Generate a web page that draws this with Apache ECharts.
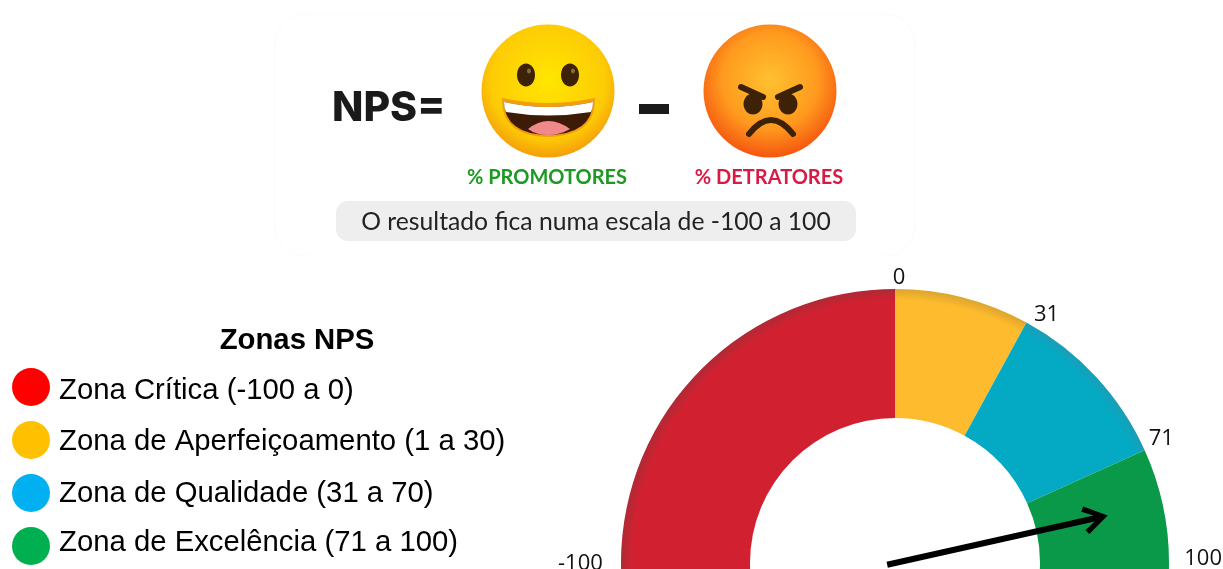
<!DOCTYPE html>
<html>
<head>
<meta charset="utf-8">
<title>Zonas NPS</title>
<script src="https://cdn.jsdelivr.net/npm/echarts@6/dist/echarts.min.js"></script>
<style>
html, body { margin: 0; padding: 0; background: #fff; }
#chart { width: 1223px; height: 569px; }
</style>
</head>
<body>
<div id="chart"></div>
<script>
var zoneNames = ['Zona Crítica (-100 a 0)', 'Zona de Aperfeiçoamento (1 a 30)', 'Zona de Qualidade (31 a 70)', 'Zona de Excelência (71 a 100)'];
var zoneWidths = [100, 31, 40, 29];
var gaugeColors = ['#D12130', '#FDBB2D', '#04A9C3', '#0A9949'];
var edgeColors = ['#AE2A36', '#DDA52E', '#1C9DB6', '#0A9949'];
var legendColors = ['#FF0000', '#FFC000', '#00B0F0', '#00B050'];
var tickLabels = [-100, 0, 31, 71, 100];
var npsValue = 86;

var arrowIcon = 'path://M14 0 L28 22 L23.5 25 L17 14 L17 226 L11 226 L11 14 L4.5 25 L0 22 Z';

// o componente graphic nao tem tipo 'path', registamos cada forma
var shapeCount = 0;
var svgShape = function (d, style) {
    var name = 'svgShape' + (shapeCount++);
    echarts.graphic.registerShape(name, echarts.graphic.extendPath(d));
    return {type: name, style: style};
};

// desenho do cabecalho (imagem da formula no original)
var smileFace = {
    type: 'radial', x: 0.5, y: 0.42, r: 0.58,
    colorStops: [{offset: 0, color: '#FFE600'}, {offset: 0.75, color: '#FDCB05'}, {offset: 1, color: '#F59E0B'}]
};
var angryFace = {
    type: 'radial', x: 0.5, y: 0.42, r: 0.6,
    colorStops: [{offset: 0, color: '#FFC130'}, {offset: 0.6, color: '#FF9A1E'}, {offset: 1, color: '#F4500E'}]
};
var dark = '#3E2207';
var strokeDark = {fill: 'none', stroke: dark, lineWidth: 6, lineCap: 'round'};

var headerFont = 'Lato, "Open Sans", sans-serif';
var header = [
    {type: 'rect', shape: {x: 275, y: 14, width: 640, height: 242, r: 30}, style: {fill: '#fff', stroke: '#FBFBFB', lineWidth: 1}},
    {type: 'text', x: 332, y: 109, style: {text: 'NPS=', font: '800 41px Inter, sans-serif', fill: '#1A1A1A', textVerticalAlign: 'middle'}},
    // carinha feliz
    {type: 'ellipse', shape: {cx: 548, cy: 91, rx: 66.5, ry: 66.5}, style: {fill: smileFace}},
    {type: 'ellipse', shape: {cx: 526, cy: 75, rx: 9, ry: 11.5}, style: {fill: dark}},
    {type: 'ellipse', shape: {cx: 570, cy: 75, rx: 9, ry: 11.5}, style: {fill: dark}},
    {type: 'ellipse', shape: {cx: 529, cy: 71, rx: 2, ry: 2.5}, style: {fill: '#8A6A3A'}},
    {type: 'ellipse', shape: {cx: 573, cy: 71, rx: 2, ry: 2.5}, style: {fill: '#8A6A3A'}},
    svgShape('M502 98 Q548 108 595 98 Q596 136 548 137 Q501 136 502 98 Z', {fill: '#F59E0B'}),
    svgShape('M504 102 Q548 112 593 102 Q592 134 548 135 Q505 134 504 102 Z', {fill: '#3E1B06'}),
    svgShape('M504 102 Q548 112 593 102 Q593 108 591 112 Q548 119 506 112 Q504 108 504 102 Z', {fill: '#fff'}),
    svgShape('M528 129 Q548 113 570 129 Q560 135 548 135 Q536 135 528 129 Z', {fill: '#F08A8A'}),
    {type: 'rect', shape: {x: 639, y: 104, width: 30, height: 10}, style: {fill: '#1A1A1A'}},
    // carinha zangada
    {type: 'ellipse', shape: {cx: 770, cy: 91, rx: 66.5, ry: 66.5}, style: {fill: angryFace}},
    {type: 'ellipse', shape: {cx: 753, cy: 104, rx: 9.5, ry: 10.5}, style: {fill: dark}},
    {type: 'ellipse', shape: {cx: 788, cy: 104, rx: 9.5, ry: 10.5}, style: {fill: dark}},
    svgShape('M741 87 L763 97', strokeDark),
    svgShape('M800 87 L778 97', strokeDark),
    svgShape('M749 134 Q771 106 793 134', strokeDark),
    {type: 'text', x: 547, y: 178, style: {text: '% PROMOTORES', font: 'bold 20px ' + headerFont, fill: '#1E9A22', textAlign: 'center', textVerticalAlign: 'middle'}},
    {type: 'text', x: 769, y: 178, style: {text: '% DETRATORES', font: 'bold 20px ' + headerFont, fill: '#D81B46', textAlign: 'center', textVerticalAlign: 'middle'}},
    {type: 'rect', shape: {x: 336, y: 201, width: 520, height: 40, r: 12}, style: {fill: '#EEEEEE'}},
    {type: 'text', x: 596, y: 222, style: {text: 'O resultado fica numa escala de -100 a 100', font: '24.7px ' + headerFont, fill: '#222', textAlign: 'center', textVerticalAlign: 'middle'}}
];

// no original os textos da legenda nao acompanham bem os circulos
var legendFont = {fontFamily: '"Liberation Sans", Arial, sans-serif', fontSize: 29.3, color: '#000', lineHeight: 20};
var legendRich = {
    z0: Object.assign({padding: [8, 0, 0, 4]}, legendFont),
    z1: Object.assign({padding: [4, 0, 0, 4]}, legendFont),
    z2: Object.assign({padding: [2, 0, 0, 4]}, legendFont),
    z3: Object.assign({padding: [0, 0, 6, 4]}, legendFont)
};

var pieData = [];
var legendData = [];
for (var i = 0; i < zoneNames.length; i++) {
    pieData.push({
        name: zoneNames[i],
        value: zoneWidths[i],
        itemStyle: {
            color: {
                type: 'radial', x: 895, y: 563, r: 274, global: true,
                colorStops: [{offset: 0, color: gaugeColors[i]}, {offset: 0.96, color: gaugeColors[i]}, {offset: 1, color: edgeColors[i]}]
            }
        }
    });
    legendData.push({name: zoneNames[i], icon: 'circle', itemStyle: {color: legendColors[i]}});
}

// o gauge alinha os rotulos para dentro, por isso o raio e grande e o padding traz cada um ao seu sitio
var labelFont = {fontFamily: '"Open Sans", sans-serif', fontSize: 22, color: '#111'};
var labelRich = {
    a: Object.assign({padding: [2, 0, 0, 18]}, labelFont),
    b: Object.assign({padding: [59, 0, 0, 8]}, labelFont),
    c: Object.assign({padding: [54, 2, 0, 0]}, labelFont),
    d: Object.assign({padding: [64, 40, 0, 0]}, labelFont),
    e: Object.assign({padding: [0, 28, 8, 0]}, labelFont)
};
var labelKeys = ['a', 'b', 'c', 'd', 'e'];

var myChart = echarts.init(document.getElementById('chart'), null, {renderer: 'canvas'});

var option = {
    animation: false,
    backgroundColor: '#fff',
    title: {
        text: 'Zonas NPS',
        left: 292,
        top: 321,
        textAlign: 'center',
        textStyle: {fontFamily: '"Liberation Sans", Arial, sans-serif', fontSize: 29.3, fontWeight: 'bold', color: '#000'}
    },
    legend: {
        data: legendData,
        orient: 'vertical',
        left: 12,
        top: 368,
        padding: 0,
        itemWidth: 38,
        itemHeight: 38,
        itemGap: 15,
        selectedMode: false,
        textStyle: {rich: legendRich},
        formatter: function (name) {
            return '{z' + zoneNames.indexOf(name) + '|' + name + '}';
        }
    },
    graphic: {elements: header},
    series: [{
        type: 'pie',
        z: 1,
        center: [895, 563],
        radius: [145, 274],
        startAngle: 182.5,
        endAngle: -2.5,
        silent: true,
        label: {show: false},
        labelLine: {show: false},
        data: pieData
    }, {
        type: 'gauge',
        z: 3,
        center: [895, 563],
        radius: 365,
        startAngle: 180,
        endAngle: 0,
        min: tickLabels[0],
        max: tickLabels[tickLabels.length - 1],
        splitNumber: 200,
        silent: true,
        axisLine: {show: false, lineStyle: {width: 0}},
        axisTick: {show: false},
        splitLine: {show: false, length: 0},
        axisLabel: {
            distance: 0,
            fontFamily: '"Open Sans", sans-serif',
            fontSize: 22,
            color: '#111',
            rich: labelRich,
            formatter: function (v) {
                var k = tickLabels.indexOf(v);
                return k >= 0 ? '{' + labelKeys[k] + '|' + v + '}' : '';
            }
        },
        pointer: {
            icon: arrowIcon,
            length: 226,
            width: 28,
            offsetCenter: [0, 8],
            itemStyle: {color: '#000'}
        },
        anchor: {show: false},
        title: {show: false},
        detail: {show: false},
        data: [{value: npsValue}]
    }]
};

myChart.setOption(option);
</script>
</body>
</html>
